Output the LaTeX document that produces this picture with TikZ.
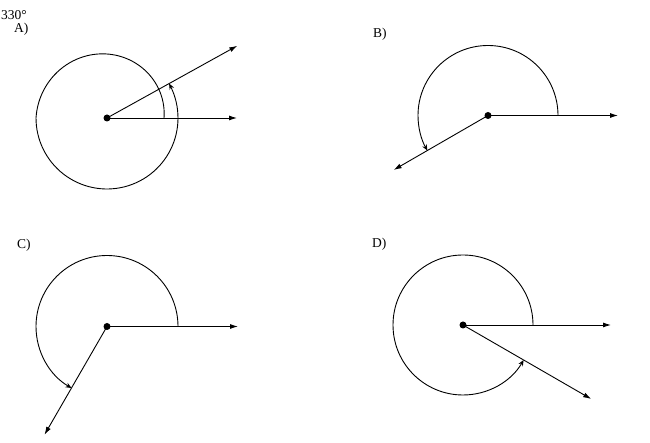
\documentclass[tikz,border=0pt]{standalone}
\usepackage{fontspec}
\setmainfont{Liberation Serif}
\usetikzlibrary{arrows.meta,calc}
\tikzset{
  vertex/.style={circle, fill=black, inner sep=0pt, minimum size=7pt},
  ray/.style={line width=0.9pt, -{Latex[length=8pt,width=5pt]}},
  turn/.style={line width=0.9pt, -{Stealth[length=6pt,width=5pt,inset=2pt]}},
  lbl/.style={anchor=west, inner sep=0pt, font=\fontsize{13.5}{15}\selectfont}
}
\begin{document}
\begin{tikzpicture}[x=1pt, y=1pt]
   \useasboundingbox (0,0) rectangle (650,443);

   \node (T)  [lbl] at (1,428) {330°};
   \node (LA) [lbl] at (14,414) {A)};
   \node (LB) [lbl] at (373,409) {B)};
   \node (LC) [lbl] at (17,198) {C)};
   \node (LD) [lbl] at (372,199) {D)};

   % centres of the four angles
   \node (OA) [vertex] at (107,325) {};
   \node (OB) [vertex] at (488,327.5) {};
   \node (OC) [vertex] at (107,116.5) {};
   \node (OD) [vertex] at (463,118) {};

   \coordinate (A1) at ($(OA.center)+(0:130)$);
   \coordinate (A2) at ($(OA.center)+(29:149)$);
   \coordinate (B1) at ($(OB.center)+(0:130)$);
   \coordinate (B2) at ($(OB.center)+(210:109)$);
   \coordinate (C1) at ($(OC.center)+(0:131)$);
   \coordinate (C2) at ($(OC.center)+(240:125)$);
   \coordinate (D1) at ($(OD.center)+(0:148)$);
   \coordinate (D2) at ($(OD.center)+(330:148)$);

   \path[ray]
     (OA.center) edge (A1)
                 edge (A2)
     (OB.center) edge (B1)
                 edge (B2)
     (OC.center) edge (C1)
                 edge (C2)
     (OD.center) edge (D1)
                 edge (D2);

   % turning arcs
   \draw[turn, shift={(OA.center)}] plot[domain=0:389, samples=120, smooth]
     (\x:{57+14*min(\x/180,1)});
   \draw[turn] ($(OB.center)+(0:70)$) arc[start angle=0, end angle=210, radius=70];
   \draw[turn] ($(OC.center)+(0:71)$) arc[start angle=0, end angle=240, radius=71];
   \draw[turn] ($(OD.center)+(0:70)$) arc[start angle=0, end angle=330, radius=70];
\end{tikzpicture}
\end{document}
